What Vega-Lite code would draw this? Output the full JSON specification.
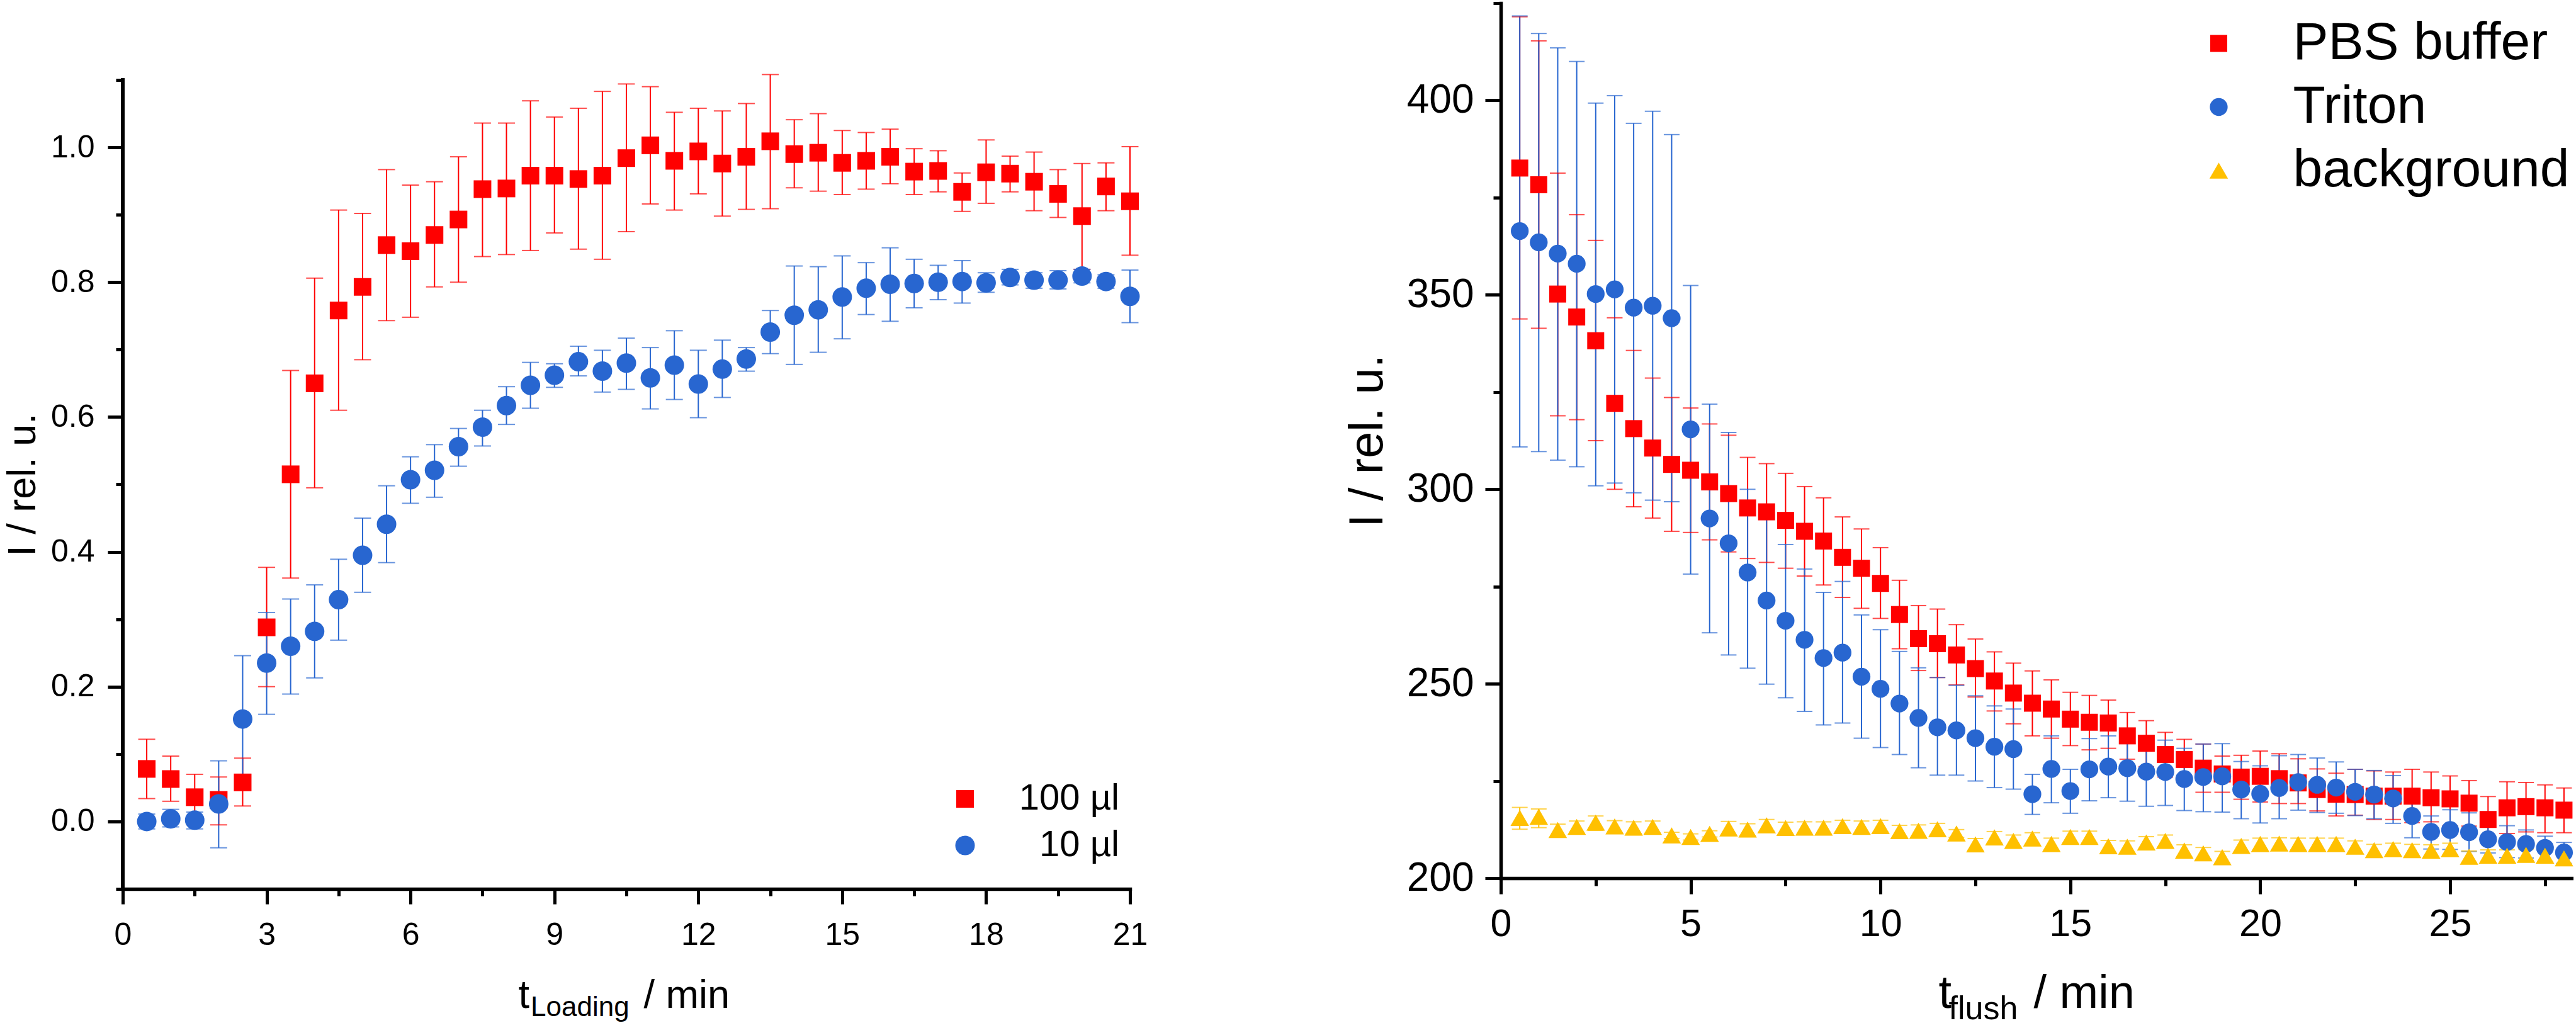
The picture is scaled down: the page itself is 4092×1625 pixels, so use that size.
{
  "$schema": "https://vega.github.io/schema/vega-lite/v6.json",
  "padding": {"left": 5, "top": 2, "right": 0, "bottom": 0},
  "spacing": 311,
  "config": {
    "view": {"stroke": null},
    "font": "Liberation Sans",
    "axis": {
      "labelFont": "Liberation Sans", "titleFont": "Liberation Sans",
      "labelColor": "#000", "titleColor": "#000", "tickColor": "#000", "domainColor": "#000",
      "grid": false, "titleFontWeight": "normal", "labelFlush": false, "labelOverlap": false,
      "tickWidth": 5, "domainWidth": 5.5, "domainCap": "square"
    },
    "legend": {"labelFont": "Liberation Sans", "labelColor": "#000", "symbolStrokeWidth": 0}
  },
  "resolve": {
    "scale": {"color": "independent", "shape": "independent", "size": "independent", "stroke": "independent", "fill": "independent"},
    "legend": {"color": "independent", "shape": "independent", "size": "independent", "stroke": "independent", "fill": "independent"}
  },
  "datasets": {
    "L": [
      {"t":0.5,"v":0.078,"lo":0.034,"hi":0.122,"s":"100 µl"},
      {"t":1.0,"v":0.063,"lo":0.030,"hi":0.097,"s":"100 µl"},
      {"t":1.5,"v":0.036,"lo":0.003,"hi":0.070,"s":"100 µl"},
      {"t":2.0,"v":0.032,"lo":-0.005,"hi":0.066,"s":"100 µl"},
      {"t":2.5,"v":0.058,"lo":0.023,"hi":0.094,"s":"100 µl"},
      {"t":3.0,"v":0.288,"lo":0.200,"hi":0.377,"s":"100 µl"},
      {"t":3.5,"v":0.515,"lo":0.361,"hi":0.669,"s":"100 µl"},
      {"t":4.0,"v":0.650,"lo":0.495,"hi":0.806,"s":"100 µl"},
      {"t":4.5,"v":0.758,"lo":0.610,"hi":0.907,"s":"100 µl"},
      {"t":5.0,"v":0.793,"lo":0.685,"hi":0.902,"s":"100 µl"},
      {"t":5.5,"v":0.855,"lo":0.743,"hi":0.967,"s":"100 µl"},
      {"t":6.0,"v":0.846,"lo":0.748,"hi":0.944,"s":"100 µl"},
      {"t":6.5,"v":0.870,"lo":0.793,"hi":0.949,"s":"100 µl"},
      {"t":7.0,"v":0.893,"lo":0.800,"hi":0.986,"s":"100 µl"},
      {"t":7.5,"v":0.938,"lo":0.838,"hi":1.036,"s":"100 µl"},
      {"t":8.0,"v":0.939,"lo":0.841,"hi":1.036,"s":"100 µl"},
      {"t":8.5,"v":0.958,"lo":0.847,"hi":1.069,"s":"100 µl"},
      {"t":9.0,"v":0.958,"lo":0.873,"hi":1.045,"s":"100 µl"},
      {"t":9.5,"v":0.953,"lo":0.849,"hi":1.058,"s":"100 µl"},
      {"t":10.0,"v":0.958,"lo":0.834,"hi":1.083,"s":"100 µl"},
      {"t":10.5,"v":0.984,"lo":0.875,"hi":1.094,"s":"100 µl"},
      {"t":11.0,"v":1.003,"lo":0.916,"hi":1.090,"s":"100 µl"},
      {"t":11.5,"v":0.980,"lo":0.907,"hi":1.052,"s":"100 µl"},
      {"t":12.0,"v":0.994,"lo":0.931,"hi":1.058,"s":"100 µl"},
      {"t":12.5,"v":0.976,"lo":0.898,"hi":1.054,"s":"100 µl"},
      {"t":13.0,"v":0.986,"lo":0.908,"hi":1.065,"s":"100 µl"},
      {"t":13.5,"v":1.009,"lo":0.909,"hi":1.108,"s":"100 µl"},
      {"t":14.0,"v":0.990,"lo":0.940,"hi":1.041,"s":"100 µl"},
      {"t":14.5,"v":0.992,"lo":0.935,"hi":1.050,"s":"100 µl"},
      {"t":15.0,"v":0.977,"lo":0.930,"hi":1.025,"s":"100 µl"},
      {"t":15.5,"v":0.980,"lo":0.938,"hi":1.022,"s":"100 µl"},
      {"t":16.0,"v":0.986,"lo":0.946,"hi":1.027,"s":"100 µl"},
      {"t":16.5,"v":0.964,"lo":0.930,"hi":0.998,"s":"100 µl"},
      {"t":17.0,"v":0.965,"lo":0.934,"hi":0.995,"s":"100 µl"},
      {"t":17.5,"v":0.934,"lo":0.905,"hi":0.962,"s":"100 µl"},
      {"t":18.0,"v":0.963,"lo":0.917,"hi":1.011,"s":"100 µl"},
      {"t":18.5,"v":0.961,"lo":0.934,"hi":0.987,"s":"100 µl"},
      {"t":19.0,"v":0.949,"lo":0.906,"hi":0.993,"s":"100 µl"},
      {"t":19.5,"v":0.931,"lo":0.896,"hi":0.967,"s":"100 µl"},
      {"t":20.0,"v":0.898,"lo":0.819,"hi":0.976,"s":"100 µl"},
      {"t":20.5,"v":0.942,"lo":0.906,"hi":0.977,"s":"100 µl"},
      {"t":21.0,"v":0.920,"lo":0.840,"hi":1.001,"s":"100 µl"},
      {"t":0.5,"v":0.000,"lo":-0.011,"hi":0.011,"s":"10 µl"},
      {"t":1.0,"v":0.004,"lo":-0.008,"hi":0.018,"s":"10 µl"},
      {"t":1.5,"v":0.002,"lo":-0.011,"hi":0.014,"s":"10 µl"},
      {"t":2.0,"v":0.026,"lo":-0.039,"hi":0.090,"s":"10 µl"},
      {"t":2.5,"v":0.152,"lo":0.058,"hi":0.246,"s":"10 µl"},
      {"t":3.0,"v":0.235,"lo":0.159,"hi":0.310,"s":"10 µl"},
      {"t":3.5,"v":0.260,"lo":0.189,"hi":0.330,"s":"10 µl"},
      {"t":4.0,"v":0.282,"lo":0.213,"hi":0.351,"s":"10 µl"},
      {"t":4.5,"v":0.329,"lo":0.269,"hi":0.389,"s":"10 µl"},
      {"t":5.0,"v":0.395,"lo":0.340,"hi":0.450,"s":"10 µl"},
      {"t":5.5,"v":0.441,"lo":0.384,"hi":0.498,"s":"10 µl"},
      {"t":6.0,"v":0.507,"lo":0.472,"hi":0.541,"s":"10 µl"},
      {"t":6.5,"v":0.521,"lo":0.481,"hi":0.559,"s":"10 µl"},
      {"t":7.0,"v":0.556,"lo":0.527,"hi":0.583,"s":"10 µl"},
      {"t":7.5,"v":0.585,"lo":0.557,"hi":0.610,"s":"10 µl"},
      {"t":8.0,"v":0.617,"lo":0.589,"hi":0.645,"s":"10 µl"},
      {"t":8.5,"v":0.647,"lo":0.613,"hi":0.681,"s":"10 µl"},
      {"t":9.0,"v":0.662,"lo":0.644,"hi":0.679,"s":"10 µl"},
      {"t":9.5,"v":0.682,"lo":0.661,"hi":0.705,"s":"10 µl"},
      {"t":10.0,"v":0.668,"lo":0.637,"hi":0.699,"s":"10 µl"},
      {"t":10.5,"v":0.680,"lo":0.641,"hi":0.717,"s":"10 µl"},
      {"t":11.0,"v":0.658,"lo":0.612,"hi":0.703,"s":"10 µl"},
      {"t":11.5,"v":0.677,"lo":0.626,"hi":0.728,"s":"10 µl"},
      {"t":12.0,"v":0.649,"lo":0.599,"hi":0.699,"s":"10 µl"},
      {"t":12.5,"v":0.671,"lo":0.629,"hi":0.714,"s":"10 µl"},
      {"t":13.0,"v":0.686,"lo":0.668,"hi":0.703,"s":"10 µl"},
      {"t":13.5,"v":0.726,"lo":0.694,"hi":0.758,"s":"10 µl"},
      {"t":14.0,"v":0.751,"lo":0.678,"hi":0.824,"s":"10 µl"},
      {"t":14.5,"v":0.759,"lo":0.696,"hi":0.823,"s":"10 µl"},
      {"t":15.0,"v":0.778,"lo":0.716,"hi":0.839,"s":"10 µl"},
      {"t":15.5,"v":0.791,"lo":0.752,"hi":0.829,"s":"10 µl"},
      {"t":16.0,"v":0.797,"lo":0.742,"hi":0.851,"s":"10 µl"},
      {"t":16.5,"v":0.798,"lo":0.762,"hi":0.834,"s":"10 µl"},
      {"t":17.0,"v":0.800,"lo":0.774,"hi":0.825,"s":"10 µl"},
      {"t":17.5,"v":0.801,"lo":0.769,"hi":0.832,"s":"10 µl"},
      {"t":18.0,"v":0.799,"lo":0.785,"hi":0.814,"s":"10 µl"},
      {"t":18.5,"v":0.807,"lo":0.796,"hi":0.819,"s":"10 µl"},
      {"t":19.0,"v":0.803,"lo":0.791,"hi":0.814,"s":"10 µl"},
      {"t":19.5,"v":0.803,"lo":0.790,"hi":0.817,"s":"10 µl"},
      {"t":20.0,"v":0.809,"lo":0.799,"hi":0.819,"s":"10 µl"},
      {"t":20.5,"v":0.801,"lo":0.791,"hi":0.811,"s":"10 µl"},
      {"t":21.0,"v":0.779,"lo":0.740,"hi":0.818,"s":"10 µl"}
    ],
    "R": [
      {"t":0.5,"v":382.6,"lo":343.8,"hi":421.5,"s":"PBS buffer"},
      {"t":1.0,"v":378.3,"lo":341.4,"hi":415.3,"s":"PBS buffer"},
      {"t":1.5,"v":350.2,"lo":318.9,"hi":381.3,"s":"PBS buffer"},
      {"t":2.0,"v":344.3,"lo":317.9,"hi":370.6,"s":"PBS buffer"},
      {"t":2.5,"v":338.2,"lo":312.5,"hi":364.0,"s":"PBS buffer"},
      {"t":3.0,"v":322.1,"lo":300.0,"hi":344.1,"s":"PBS buffer"},
      {"t":3.5,"v":315.6,"lo":295.5,"hi":335.7,"s":"PBS buffer"},
      {"t":4.0,"v":310.6,"lo":292.6,"hi":328.6,"s":"PBS buffer"},
      {"t":4.5,"v":306.4,"lo":289.2,"hi":323.6,"s":"PBS buffer"},
      {"t":5.0,"v":304.9,"lo":288.9,"hi":320.9,"s":"PBS buffer"},
      {"t":5.5,"v":301.9,"lo":287.0,"hi":316.8,"s":"PBS buffer"},
      {"t":6.0,"v":298.9,"lo":283.9,"hi":313.9,"s":"PBS buffer"},
      {"t":6.5,"v":295.2,"lo":282.2,"hi":308.2,"s":"PBS buffer"},
      {"t":7.0,"v":294.2,"lo":281.2,"hi":306.6,"s":"PBS buffer"},
      {"t":7.5,"v":292.0,"lo":279.7,"hi":304.1,"s":"PBS buffer"},
      {"t":8.0,"v":289.2,"lo":277.7,"hi":300.7,"s":"PBS buffer"},
      {"t":8.5,"v":286.7,"lo":275.4,"hi":297.8,"s":"PBS buffer"},
      {"t":9.0,"v":282.5,"lo":272.2,"hi":292.9,"s":"PBS buffer"},
      {"t":9.5,"v":279.7,"lo":269.4,"hi":289.8,"s":"PBS buffer"},
      {"t":10.0,"v":275.8,"lo":266.8,"hi":285.0,"s":"PBS buffer"},
      {"t":10.5,"v":267.8,"lo":259.0,"hi":276.6,"s":"PBS buffer"},
      {"t":11.0,"v":261.6,"lo":253.4,"hi":270.1,"s":"PBS buffer"},
      {"t":11.5,"v":260.3,"lo":251.6,"hi":269.2,"s":"PBS buffer"},
      {"t":12.0,"v":257.4,"lo":249.7,"hi":265.2,"s":"PBS buffer"},
      {"t":12.5,"v":253.9,"lo":246.6,"hi":261.5,"s":"PBS buffer"},
      {"t":13.0,"v":250.7,"lo":243.0,"hi":258.2,"s":"PBS buffer"},
      {"t":13.5,"v":247.6,"lo":239.7,"hi":255.3,"s":"PBS buffer"},
      {"t":14.0,"v":245.0,"lo":236.6,"hi":253.3,"s":"PBS buffer"},
      {"t":14.5,"v":243.5,"lo":236.0,"hi":251.0,"s":"PBS buffer"},
      {"t":15.0,"v":240.9,"lo":234.1,"hi":247.8,"s":"PBS buffer"},
      {"t":15.5,"v":240.1,"lo":233.0,"hi":247.0,"s":"PBS buffer"},
      {"t":16.0,"v":239.9,"lo":233.4,"hi":245.8,"s":"PBS buffer"},
      {"t":16.5,"v":236.6,"lo":230.6,"hi":242.6,"s":"PBS buffer"},
      {"t":17.0,"v":234.7,"lo":228.7,"hi":240.5,"s":"PBS buffer"},
      {"t":17.5,"v":231.8,"lo":226.0,"hi":237.5,"s":"PBS buffer"},
      {"t":18.0,"v":230.5,"lo":225.3,"hi":235.7,"s":"PBS buffer"},
      {"t":18.5,"v":228.3,"lo":222.1,"hi":234.5,"s":"PBS buffer"},
      {"t":19.0,"v":226.8,"lo":222.1,"hi":231.4,"s":"PBS buffer"},
      {"t":19.5,"v":226.0,"lo":220.3,"hi":231.6,"s":"PBS buffer"},
      {"t":20.0,"v":226.2,"lo":219.6,"hi":232.7,"s":"PBS buffer"},
      {"t":20.5,"v":225.6,"lo":219.2,"hi":232.0,"s":"PBS buffer"},
      {"t":21.0,"v":224.5,"lo":219.2,"hi":230.7,"s":"PBS buffer"},
      {"t":21.5,"v":222.8,"lo":217.3,"hi":228.1,"s":"PBS buffer"},
      {"t":22.0,"v":221.6,"lo":216.0,"hi":227.0,"s":"PBS buffer"},
      {"t":22.5,"v":221.5,"lo":216.2,"hi":228.0,"s":"PBS buffer"},
      {"t":23.0,"v":221.1,"lo":215.1,"hi":227.6,"s":"PBS buffer"},
      {"t":23.5,"v":221.1,"lo":215.1,"hi":227.3,"s":"PBS buffer"},
      {"t":24.0,"v":221.1,"lo":214.3,"hi":228.0,"s":"PBS buffer"},
      {"t":24.5,"v":220.7,"lo":214.5,"hi":227.3,"s":"PBS buffer"},
      {"t":25.0,"v":220.4,"lo":213.5,"hi":226.3,"s":"PBS buffer"},
      {"t":25.5,"v":219.3,"lo":213.4,"hi":225.1,"s":"PBS buffer"},
      {"t":26.0,"v":215.1,"lo":209.7,"hi":221.0,"s":"PBS buffer"},
      {"t":26.5,"v":218.1,"lo":211.5,"hi":224.8,"s":"PBS buffer"},
      {"t":27.0,"v":218.4,"lo":211.9,"hi":224.6,"s":"PBS buffer"},
      {"t":27.5,"v":218.1,"lo":211.7,"hi":224.0,"s":"PBS buffer"},
      {"t":28.0,"v":217.5,"lo":211.7,"hi":223.2,"s":"PBS buffer"},
      {"t":0.5,"v":366.4,"lo":310.9,"hi":421.7,"s":"Triton"},
      {"t":1.0,"v":363.5,"lo":309.7,"hi":417.2,"s":"Triton"},
      {"t":1.5,"v":360.6,"lo":307.5,"hi":413.5,"s":"Triton"},
      {"t":2.0,"v":358.0,"lo":305.8,"hi":410.0,"s":"Triton"},
      {"t":2.5,"v":350.2,"lo":300.9,"hi":399.3,"s":"Triton"},
      {"t":3.0,"v":351.4,"lo":301.6,"hi":401.2,"s":"Triton"},
      {"t":3.5,"v":346.7,"lo":299.1,"hi":394.1,"s":"Triton"},
      {"t":4.0,"v":347.2,"lo":297.2,"hi":397.2,"s":"Triton"},
      {"t":4.5,"v":344.0,"lo":296.8,"hi":391.2,"s":"Triton"},
      {"t":5.0,"v":315.4,"lo":278.2,"hi":352.4,"s":"Triton"},
      {"t":5.5,"v":292.5,"lo":263.1,"hi":321.9,"s":"Triton"},
      {"t":6.0,"v":286.1,"lo":257.4,"hi":314.6,"s":"Triton"},
      {"t":6.5,"v":278.6,"lo":254.0,"hi":300.0,"s":"Triton"},
      {"t":7.0,"v":271.4,"lo":249.9,"hi":293.0,"s":"Triton"},
      {"t":7.5,"v":266.2,"lo":246.4,"hi":285.8,"s":"Triton"},
      {"t":8.0,"v":261.3,"lo":242.9,"hi":279.5,"s":"Triton"},
      {"t":8.5,"v":256.6,"lo":239.4,"hi":273.5,"s":"Triton"},
      {"t":9.0,"v":258.0,"lo":239.9,"hi":276.3,"s":"Triton"},
      {"t":9.5,"v":251.8,"lo":236.0,"hi":267.7,"s":"Triton"},
      {"t":10.0,"v":248.7,"lo":233.6,"hi":263.9,"s":"Triton"},
      {"t":10.5,"v":244.9,"lo":231.8,"hi":258.3,"s":"Triton"},
      {"t":11.0,"v":241.2,"lo":228.4,"hi":254.1,"s":"Triton"},
      {"t":11.5,"v":238.8,"lo":226.5,"hi":251.6,"s":"Triton"},
      {"t":12.0,"v":238.0,"lo":226.5,"hi":249.6,"s":"Triton"},
      {"t":12.5,"v":236.0,"lo":225.0,"hi":246.9,"s":"Triton"},
      {"t":13.0,"v":233.8,"lo":223.3,"hi":244.3,"s":"Triton"},
      {"t":13.5,"v":233.2,"lo":222.9,"hi":243.5,"s":"Triton"},
      {"t":14.0,"v":221.6,"lo":216.4,"hi":226.7,"s":"Triton"},
      {"t":14.5,"v":228.1,"lo":219.4,"hi":236.6,"s":"Triton"},
      {"t":15.0,"v":222.4,"lo":216.7,"hi":228.0,"s":"Triton"},
      {"t":15.5,"v":228.0,"lo":219.9,"hi":235.9,"s":"Triton"},
      {"t":16.0,"v":228.7,"lo":220.7,"hi":236.6,"s":"Triton"},
      {"t":16.5,"v":228.3,"lo":219.8,"hi":237.1,"s":"Triton"},
      {"t":17.0,"v":227.4,"lo":218.5,"hi":236.6,"s":"Triton"},
      {"t":17.5,"v":227.3,"lo":218.7,"hi":235.5,"s":"Triton"},
      {"t":18.0,"v":225.5,"lo":217.4,"hi":233.4,"s":"Triton"},
      {"t":18.5,"v":226.0,"lo":217.1,"hi":234.5,"s":"Triton"},
      {"t":19.0,"v":226.2,"lo":217.0,"hi":234.6,"s":"Triton"},
      {"t":19.5,"v":222.8,"lo":215.3,"hi":230.0,"s":"Triton"},
      {"t":20.0,"v":221.7,"lo":214.2,"hi":228.9,"s":"Triton"},
      {"t":20.5,"v":223.2,"lo":215.3,"hi":231.5,"s":"Triton"},
      {"t":21.0,"v":224.7,"lo":217.5,"hi":231.8,"s":"Triton"},
      {"t":21.5,"v":224.0,"lo":216.9,"hi":230.9,"s":"Triton"},
      {"t":22.0,"v":223.3,"lo":216.7,"hi":229.9,"s":"Triton"},
      {"t":22.5,"v":222.2,"lo":216.1,"hi":228.0,"s":"Triton"},
      {"t":23.0,"v":221.5,"lo":215.3,"hi":227.7,"s":"Triton"},
      {"t":23.5,"v":220.5,"lo":214.1,"hi":226.4,"s":"Triton"},
      {"t":24.0,"v":216.0,"lo":210.4,"hi":221.9,"s":"Triton"},
      {"t":24.5,"v":211.9,"lo":207.5,"hi":216.0,"s":"Triton"},
      {"t":25.0,"v":212.4,"lo":207.4,"hi":217.6,"s":"Triton"},
      {"t":25.5,"v":211.8,"lo":206.9,"hi":216.8,"s":"Triton"},
      {"t":26.0,"v":210.0,"lo":206.5,"hi":213.5,"s":"Triton"},
      {"t":26.5,"v":209.3,"lo":205.3,"hi":213.5,"s":"Triton"},
      {"t":27.0,"v":208.8,"lo":205.2,"hi":212.4,"s":"Triton"},
      {"t":27.5,"v":207.8,"lo":204.3,"hi":210.8,"s":"Triton"},
      {"t":28.0,"v":206.6,"lo":203.8,"hi":209.2,"s":"Triton"},
      {"t":0.5,"v":215.5,"lo":212.6,"hi":218.2,"s":"background"},
      {"t":1.0,"v":215.8,"lo":213.0,"hi":217.8,"s":"background"},
      {"t":1.5,"v":212.4,"lo":210.9,"hi":213.9,"s":"background"},
      {"t":2.0,"v":213.2,"lo":211.7,"hi":214.7,"s":"background"},
      {"t":2.5,"v":214.3,"lo":212.3,"hi":216.0,"s":"background"},
      {"t":3.0,"v":213.3,"lo":211.8,"hi":214.8,"s":"background"},
      {"t":3.5,"v":213.0,"lo":211.5,"hi":214.5,"s":"background"},
      {"t":4.0,"v":213.2,"lo":211.7,"hi":214.7,"s":"background"},
      {"t":4.5,"v":211.0,"lo":210.2,"hi":211.8,"s":"background"},
      {"t":5.0,"v":210.6,"lo":209.8,"hi":211.4,"s":"background"},
      {"t":5.5,"v":211.4,"lo":210.6,"hi":212.2,"s":"background"},
      {"t":6.0,"v":212.8,"lo":211.0,"hi":214.6,"s":"background"},
      {"t":6.5,"v":212.5,"lo":211.0,"hi":214.0,"s":"background"},
      {"t":7.0,"v":213.6,"lo":212.1,"hi":215.1,"s":"background"},
      {"t":7.5,"v":212.9,"lo":211.4,"hi":214.4,"s":"background"},
      {"t":8.0,"v":213.0,"lo":211.5,"hi":214.5,"s":"background"},
      {"t":8.5,"v":213.0,"lo":211.5,"hi":214.5,"s":"background"},
      {"t":9.0,"v":213.4,"lo":211.9,"hi":214.9,"s":"background"},
      {"t":9.5,"v":213.2,"lo":211.5,"hi":214.7,"s":"background"},
      {"t":10.0,"v":213.4,"lo":211.9,"hi":214.9,"s":"background"},
      {"t":10.5,"v":212.1,"lo":210.6,"hi":213.6,"s":"background"},
      {"t":11.0,"v":212.2,"lo":210.7,"hi":213.7,"s":"background"},
      {"t":11.5,"v":212.6,"lo":211.1,"hi":214.1,"s":"background"},
      {"t":12.0,"v":211.5,"lo":210.5,"hi":212.5,"s":"background"},
      {"t":12.5,"v":208.7,"lo":207.2,"hi":210.2,"s":"background"},
      {"t":13.0,"v":210.5,"lo":209.0,"hi":212.0,"s":"background"},
      {"t":13.5,"v":209.6,"lo":208.1,"hi":211.1,"s":"background"},
      {"t":14.0,"v":210.2,"lo":208.7,"hi":211.7,"s":"background"},
      {"t":14.5,"v":208.8,"lo":207.3,"hi":210.3,"s":"background"},
      {"t":15.0,"v":210.6,"lo":209.1,"hi":212.1,"s":"background"},
      {"t":15.5,"v":210.6,"lo":209.1,"hi":212.1,"s":"background"},
      {"t":16.0,"v":208.2,"lo":206.7,"hi":209.7,"s":"background"},
      {"t":16.5,"v":208.1,"lo":206.6,"hi":209.6,"s":"background"},
      {"t":17.0,"v":209.2,"lo":207.7,"hi":210.7,"s":"background"},
      {"t":17.5,"v":209.6,"lo":208.1,"hi":211.1,"s":"background"},
      {"t":18.0,"v":207.1,"lo":205.6,"hi":208.6,"s":"background"},
      {"t":18.5,"v":206.4,"lo":204.9,"hi":207.9,"s":"background"},
      {"t":19.0,"v":205.4,"lo":203.9,"hi":206.9,"s":"background"},
      {"t":19.5,"v":208.3,"lo":206.8,"hi":209.8,"s":"background"},
      {"t":20.0,"v":208.8,"lo":207.3,"hi":210.3,"s":"background"},
      {"t":20.5,"v":208.9,"lo":207.4,"hi":210.4,"s":"background"},
      {"t":21.0,"v":208.8,"lo":207.3,"hi":210.3,"s":"background"},
      {"t":21.5,"v":208.8,"lo":207.3,"hi":210.3,"s":"background"},
      {"t":22.0,"v":208.8,"lo":207.3,"hi":210.3,"s":"background"},
      {"t":22.5,"v":208.1,"lo":206.6,"hi":209.6,"s":"background"},
      {"t":23.0,"v":207.2,"lo":205.7,"hi":208.7,"s":"background"},
      {"t":23.5,"v":207.5,"lo":206.0,"hi":209.0,"s":"background"},
      {"t":24.0,"v":207.2,"lo":205.7,"hi":208.7,"s":"background"},
      {"t":24.5,"v":207.1,"lo":205.6,"hi":208.6,"s":"background"},
      {"t":25.0,"v":207.5,"lo":206.0,"hi":209.0,"s":"background"},
      {"t":25.5,"v":205.5,"lo":204.0,"hi":207.0,"s":"background"},
      {"t":26.0,"v":205.8,"lo":204.3,"hi":207.3,"s":"background"},
      {"t":26.5,"v":205.8,"lo":204.3,"hi":207.3,"s":"background"},
      {"t":27.0,"v":206.0,"lo":204.5,"hi":207.5,"s":"background"},
      {"t":27.5,"v":205.8,"lo":204.3,"hi":207.3,"s":"background"},
      {"t":28.0,"v":205.1,"lo":203.6,"hi":206.6,"s":"background"}
    ]
  },
  "hconcat": [
    {
      "width": 1600,
      "height": 1407,
      "data": {"name": "L"},
      "resolve": {"axis": {"x": "independent", "y": "independent"}},
      "layer": [
        {
          "mark": {"type": "rule", "strokeWidth": 2},
          "encoding": {
            "x": {"field": "t", "type": "quantitative",
              "scale": {"domain": [0, 21], "nice": false, "zero": false},
              "axis": {"orient": "bottom", "values": [0,3,6,9,12,15,18,21], "format": "d",
                "labelFontSize": 50, "tickSize": 24, "labelPadding": 24,
                "title": "t", "titleFontSize": 63, "titleX": 628, "titleY": 188,
                "titleAlign": "left", "titleBaseline": "alphabetic", "titleAngle": 0}},
            "y": {"field": "lo", "type": "quantitative",
              "scale": {"domain": [-0.1, 1.2139], "nice": false, "zero": false},
              "axis": {"orient": "left", "values": [0,0.2,0.4,0.6,0.8,1.0], "format": ".1f",
                "domain": false, "labelFontSize": 50, "tickSize": 24, "labelPadding": 21,
                "title": "I / rel. u.", "titleFontSize": 63, "titleX": -189.5, "titleY": 764.5,
                "titleAngle": 270, "titleBaseline": "top", "titleAlign": "center"}},
            "y2": {"field": "hi"},
            "stroke": {"field": "s", "type": "nominal",
              "scale": {"domain": ["10 µl", "100 µl"], "range": ["#2866d0", "#ff0000"]}, "legend": null}
          }
        },
        {
          "mark": {"type": "tick", "orient": "horizontal", "thickness": 2, "size": 27},
          "encoding": {
            "x": {"field": "t", "type": "quantitative",
              "axis": {"orient": "bottom", "values": [1.5,4.5,7.5,10.5,13.5,16.5,19.5],
                "labels": false, "domain": false, "tickSize": 11,
                "title": "Loading", "titleFontSize": 44, "titleX": 647.5, "titleY": 201,
                "titleAlign": "left", "titleBaseline": "alphabetic", "titleAngle": 0}},
            "y": {"field": "lo", "type": "quantitative",
              "axis": {"orient": "left", "values": [-0.1,0.1,0.3,0.5,0.7,0.9,1.1],
                "labels": false, "domain": false, "tickSize": 11, "title": null}},
            "fill": {"field": "s", "type": "nominal",
              "scale": {"domain": ["10 µl", "100 µl"], "range": ["#2866d0", "#ff0000"]}, "legend": null}
          }
        },
        {
          "mark": {"type": "tick", "orient": "horizontal", "thickness": 2, "size": 27},
          "encoding": {
            "x": {"field": "t", "type": "quantitative",
              "axis": {"orient": "bottom", "values": [], "labels": false, "domain": false, "ticks": false,
                "title": "/ min", "titleFontSize": 63, "titleX": 827, "titleY": 188,
                "titleAlign": "left", "titleBaseline": "alphabetic", "titleAngle": 0}},
            "y": {"field": "hi", "type": "quantitative", "axis": null},
            "fill": {"field": "s", "type": "nominal",
              "scale": {"domain": ["10 µl", "100 µl"], "range": ["#2866d0", "#ff0000"]}, "legend": null}
          }
        },
        {
          "mark": {"type": "point", "filled": true, "opacity": 1},
          "encoding": {
            "x": {"field": "t", "type": "quantitative", "axis": null},
            "y": {"field": "v", "type": "quantitative", "axis": null},
            "color": {"field": "s", "type": "nominal",
              "scale": {"domain": ["100 µl", "10 µl"], "range": ["#ff0000", "#2866d0"]},
              "legend": {"title": null, "orient": "none", "legendX": 1309, "legendY": 1235,
                "labelFontSize": 58, "labelAlign": "right", "labelOffset": 216, "rowPadding": 16,
                "labelLimit": 1000}},
            "shape": {"field": "s", "type": "nominal",
              "scale": {"domain": ["100 µl", "10 µl"], "range": ["square", "circle"]}},
            "size": {"field": "s", "type": "nominal",
              "scale": {"domain": ["100 µl", "10 µl"], "range": [784, 961]}}
          }
        },
        {
          "mark": {"type": "rule", "strokeWidth": 5.5, "color": "#000", "strokeCap": "square"},
          "encoding": {
            "x": {"datum": 0, "type": "quantitative", "axis": null},
            "y": {"datum": -0.1, "type": "quantitative", "axis": null},
            "y2": {"datum": 1.1}
          }
        }
      ]
    },
    {
      "width": 1704,
      "height": 1390,
      "data": {"name": "R"},
      "resolve": {"axis": {"x": "independent", "y": "independent"}},
      "layer": [
        {
          "mark": {"type": "rule", "strokeWidth": 2},
          "encoding": {
            "x": {"field": "t", "type": "quantitative",
              "scale": {"domain": [0, 28.25], "nice": false, "zero": false},
              "axis": {"orient": "bottom", "values": [0,5,10,15,20,25], "format": "d",
                "labelFontSize": 61, "tickSize": 25, "labelPadding": 18,
                "title": "t", "titleFontSize": 74, "titleX": 695, "titleY": 205,
                "titleAlign": "left", "titleBaseline": "alphabetic", "titleAngle": 0}},
            "y": {"field": "lo", "type": "quantitative",
              "scale": {"domain": [200, 425], "nice": false, "zero": false},
              "axis": {"orient": "left", "values": [200,250,300,350,400], "format": "d",
                "labelFontSize": 64, "tickSize": 25, "labelPadding": 18,
                "title": "I / rel. u.", "titleFontSize": 76, "titleX": -249, "titleY": 695,
                "titleAngle": 270, "titleBaseline": "top", "titleAlign": "center"}},
            "y2": {"field": "hi"},
            "stroke": {"field": "s", "type": "nominal",
              "scale": {"domain": ["background", "Triton", "PBS buffer"], "range": ["#ffc000", "#2866d0", "#ff0000"]}, "legend": null}
          }
        },
        {
          "mark": {"type": "tick", "orient": "horizontal", "thickness": 2, "size": 25},
          "encoding": {
            "x": {"field": "t", "type": "quantitative",
              "axis": {"orient": "bottom", "values": [2.5,7.5,12.5,17.5,22.5,27.5],
                "labels": false, "domain": false, "tickSize": 12,
                "title": "flush", "titleFontSize": 52, "titleX": 711, "titleY": 223,
                "titleAlign": "left", "titleBaseline": "alphabetic", "titleAngle": 0}},
            "y": {"field": "lo", "type": "quantitative",
              "axis": {"orient": "left", "values": [225,275,325,375,425],
                "labels": false, "domain": false, "tickSize": 12, "title": null}},
            "fill": {"field": "s", "type": "nominal",
              "scale": {"domain": ["background", "Triton", "PBS buffer"], "range": ["#ffc000", "#2866d0", "#ff0000"]}, "legend": null}
          }
        },
        {
          "mark": {"type": "tick", "orient": "horizontal", "thickness": 2, "size": 25},
          "encoding": {
            "x": {"field": "t", "type": "quantitative",
              "axis": {"orient": "bottom", "values": [], "labels": false, "domain": false, "ticks": false,
                "title": "/ min", "titleFontSize": 74, "titleX": 846, "titleY": 205,
                "titleAlign": "left", "titleBaseline": "alphabetic", "titleAngle": 0}},
            "y": {"field": "hi", "type": "quantitative", "axis": null},
            "fill": {"field": "s", "type": "nominal",
              "scale": {"domain": ["background", "Triton", "PBS buffer"], "range": ["#ffc000", "#2866d0", "#ff0000"]}, "legend": null}
          }
        },
        {
          "mark": {"type": "point", "filled": true, "opacity": 1},
          "encoding": {
            "x": {"field": "t", "type": "quantitative", "axis": null},
            "y": {"field": "v", "type": "quantitative", "axis": null},
            "color": {"field": "s", "type": "nominal",
              "scale": {"domain": ["PBS buffer", "Triton", "background"], "range": ["#ff0000", "#2866d0", "#ffc000"]},
              "legend": {"title": null, "orient": "none", "legendX": 1098.5, "legendY": 22,
                "labelFontSize": 84, "labelAlign": "left", "labelOffset": 76, "rowPadding": 17,
                "labelLimit": 1000}},
            "shape": {"field": "s", "type": "nominal",
              "scale": {"domain": ["PBS buffer", "Triton", "background"], "range": ["square", "circle", "triangle-up"]}},
            "size": {"field": "s", "type": "nominal",
              "scale": {"domain": ["PBS buffer", "Triton", "background"], "range": [729, 870, 1225]}}
          }
        }
      ]
    }
  ]
}
